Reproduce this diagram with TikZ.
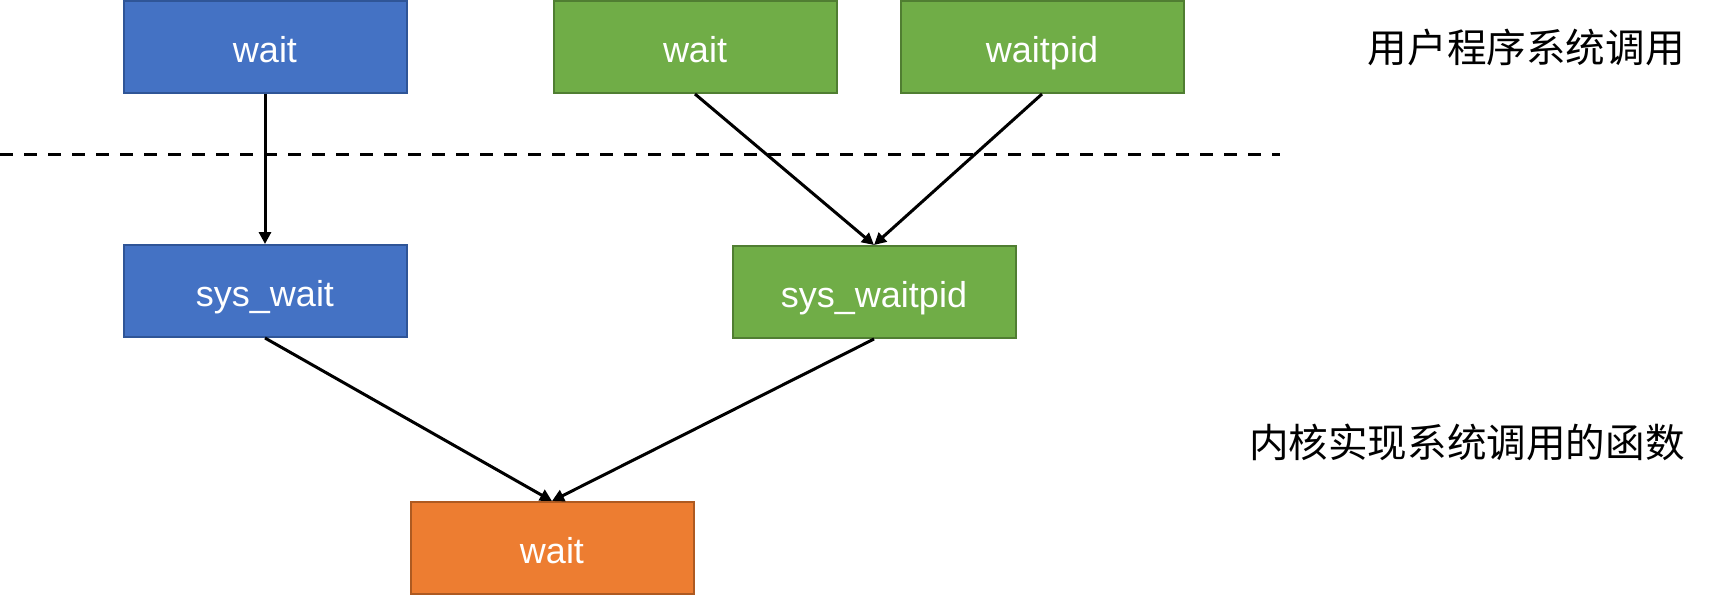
\documentclass[tikz,border=0pt]{standalone}
\usepackage{fontspec}
\setmainfont{Liberation Sans}
\newfontfamily\cjk{Noto Sans CJK SC}
\usetikzlibrary{arrows.meta,positioning}

\definecolor{blueF}{HTML}{4472C4}
\definecolor{blueD}{HTML}{2F5597}
\definecolor{greenF}{HTML}{70AD47}
\definecolor{greenD}{HTML}{507E32}
\definecolor{orangeF}{HTML}{ED7D31}
\definecolor{orangeD}{HTML}{AE5A21}

\begin{document}
\begin{tikzpicture}[x=0.5pt,y=-0.5pt,
  box/.style={draw, line width=1pt, minimum width=141.5pt, minimum height=46pt,
    text height=17pt, text depth=2pt, text=white, font=\fontsize{18}{20}\selectfont},
  bluebox/.style={box, fill=blueF, draw=blueD},
  greenbox/.style={box, fill=greenF, draw=greenD},
  orangebox/.style={box, fill=orangeF, draw=orangeD},
  label/.style={anchor=east, inner sep=0pt, font=\cjk\fontsize{19.8}{22}\selectfont},
  arr/.style={-{Triangle[length=6pt,width=6pt]}, line width=1.5pt}]

  \useasboundingbox (0,0) rectangle (1712,596);

  % user level
  \node [bluebox] at (265,47) (uwait) {wait};
  \node [greenbox] at (695,47) (gwait) {wait};
  \node [greenbox] at (1042,47) (gwaitpid) {waitpid};

  % kernel level
  \node [bluebox, below=75pt of uwait] (swait) {sys\_wait};
  \node [greenbox] at (874,292) (swaitpid) {sys\_waitpid};
  \node [orangebox] at (552,548) (kwait) {wait};

  \node [label] at (1685,47) (l1) {用户程序系统调用};
  \node [label] at (1685,442) (l2) {内核实现系统调用的函数};

  \coordinate (dl) at (0,154);
  \coordinate (dr) at (1280,154);
  \draw [line width=1.5pt, dash pattern=on 6.5pt off 5.5pt] (dl) -- (dr);

  \draw [arr] (uwait) -- (swait);
  \draw [arr] (gwait.south) -- (swaitpid.north);
  \draw [arr] (gwaitpid.south) -- (swaitpid.north);

  \draw [arr] (swait.south) -- (kwait.north);
  \draw [arr] (swaitpid.south) -- (kwait.north);

\end{tikzpicture}
\end{document}
